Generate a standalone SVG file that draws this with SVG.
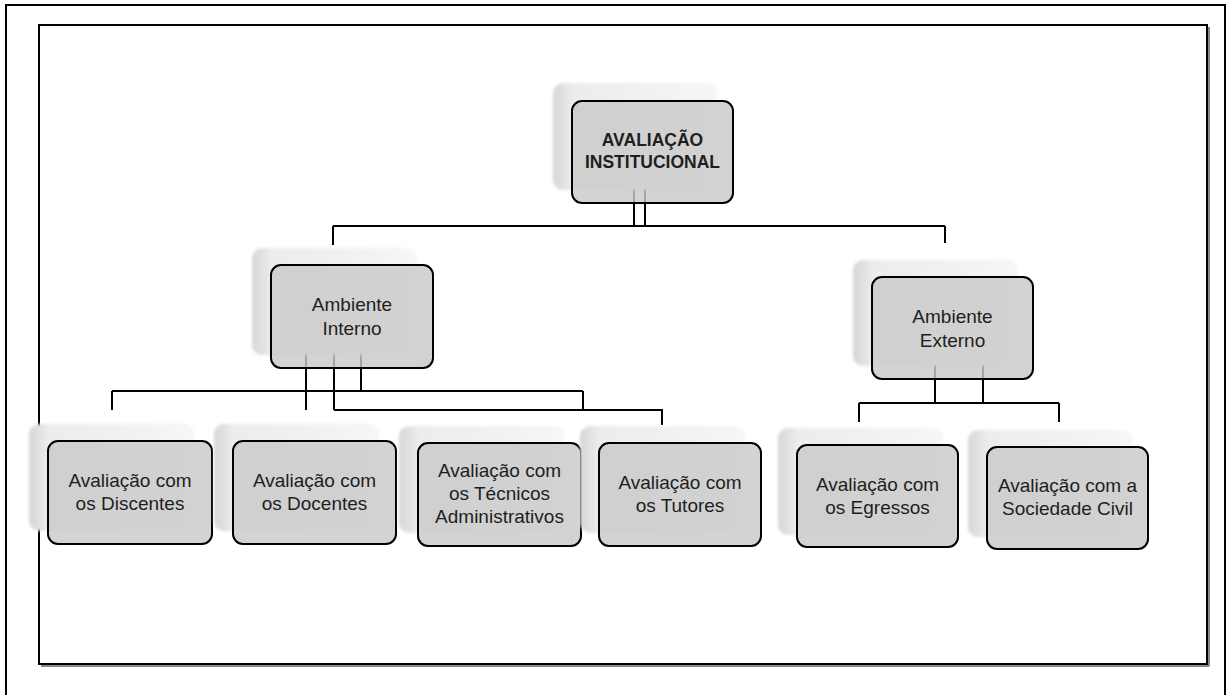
<svg xmlns="http://www.w3.org/2000/svg" width="1229" height="695" viewBox="0 0 1229 695">
<style>
.frame{fill:none;stroke:#000;stroke-width:2}
.box{fill:#c9c9c9;fill-opacity:0.82;stroke:#000;stroke-width:2}
.shadow{fill:url(#shg);filter:url(#blur)}
.con{fill:none;stroke:#000;stroke-width:2}
.t{font-family:"Liberation Sans",Arial,sans-serif;font-size:19px;fill:#1e1e1e;text-anchor:middle}
.tb{font-family:"Liberation Sans",Arial,sans-serif;font-size:17.5px;font-weight:bold;fill:#1e1e1e;text-anchor:middle}
</style>
<defs>
<linearGradient id="shg" x1="0" y1="0" x2="1" y2="0">
<stop offset="0" stop-color="#d6d6d6"/>
<stop offset="0.12" stop-color="#ececec"/>
<stop offset="1" stop-color="#f6f6f6"/>
</linearGradient>
<filter id="blur" x="-10%" y="-10%" width="120%" height="120%">
<feGaussianBlur stdDeviation="1.5"/>
</filter>
</defs>
<rect width="1229" height="695" fill="#fff"/>
<g id="frames">
<rect class="frame" x="6" y="5" width="1219" height="700"/>
<line x1="1209" y1="27" x2="1209" y2="666" stroke="#888" stroke-width="2"/>
<line x1="41" y1="666" x2="1209" y2="666" stroke="#888" stroke-width="2"/>
<rect class="frame" x="39" y="25" width="1168" height="639"/>
</g>
<g id="connectors">
<path class="con" d="M634 186V226M645 186V226M333 226H945M333 226V245M945 226V243"/>
<path class="con" d="M306 352V410M334 352V410M361 352V391M112 391H583M112 391V410M583 391V410M334 410H662V425"/>
<path class="con" d="M935 365V403M983 365V403M859 403H1059M859 403V422M1059 403V422"/>
</g>
<g id="node-avaliacao">
<rect class="shadow" x="553" y="83" width="164" height="107" rx="10"/>
<rect class="box" x="572" y="101" width="161" height="102" rx="10"/>
<text class="tb" x="652.5" y="146">AVALIAÇÃO</text>
<text class="tb" x="652.5" y="168">INSTITUCIONAL</text>
</g>
<g id="node-interno">
<rect class="shadow" x="252" y="248" width="165" height="107" rx="10"/>
<rect class="box" x="271" y="265" width="162" height="103" rx="10"/>
<text class="t" x="352" y="311">Ambiente</text>
<text class="t" x="352" y="335">Interno</text>
</g>
<g id="node-externo">
<rect class="shadow" x="853" y="260" width="165" height="106" rx="10"/>
<rect class="box" x="872" y="277" width="161" height="102" rx="10"/>
<text class="t" x="952.5" y="323">Ambiente</text>
<text class="t" x="952.5" y="347">Externo</text>
</g>
<g id="node-discentes">
<rect class="shadow" x="29" y="424" width="165" height="107" rx="10"/>
<rect class="box" x="48" y="441" width="164" height="103" rx="10"/>
<text class="t" x="130" y="487">Avaliação com</text>
<text class="t" x="130" y="510">os Discentes</text>
</g>
<g id="node-docentes">
<rect class="shadow" x="214" y="424" width="165" height="107" rx="10"/>
<rect class="box" x="233" y="441" width="163" height="103" rx="10"/>
<text class="t" x="314.5" y="487">Avaliação com</text>
<text class="t" x="314.5" y="510">os Docentes</text>
</g>
<g id="node-tecnicos">
<rect class="shadow" x="399" y="426" width="165" height="107" rx="10"/>
<rect class="box" x="418" y="443" width="163" height="103" rx="10"/>
<text class="t" x="499.5" y="477">Avaliação com</text>
<text class="t" x="499.5" y="500">os Técnicos</text>
<text class="t" x="499.5" y="523">Administrativos</text>
</g>
<g id="node-tutores">
<rect class="shadow" x="580" y="426" width="165" height="107" rx="10"/>
<rect class="box" x="599" y="443" width="162" height="103" rx="10"/>
<text class="t" x="680" y="489">Avaliação com</text>
<text class="t" x="680" y="512">os Tutores</text>
</g>
<g id="node-egressos">
<rect class="shadow" x="778" y="428" width="165" height="107" rx="10"/>
<rect class="box" x="797" y="445" width="161" height="102" rx="10"/>
<text class="t" x="877.5" y="491">Avaliação com</text>
<text class="t" x="877.5" y="514">os Egressos</text>
</g>
<g id="node-sociedade">
<rect class="shadow" x="968" y="430" width="165" height="107" rx="10"/>
<rect class="box" x="987" y="447" width="161" height="102" rx="10"/>
<text class="t" x="1067.5" y="492">Avaliação com a</text>
<text class="t" x="1067.5" y="515">Sociedade Civil</text>
</g>
</svg>
